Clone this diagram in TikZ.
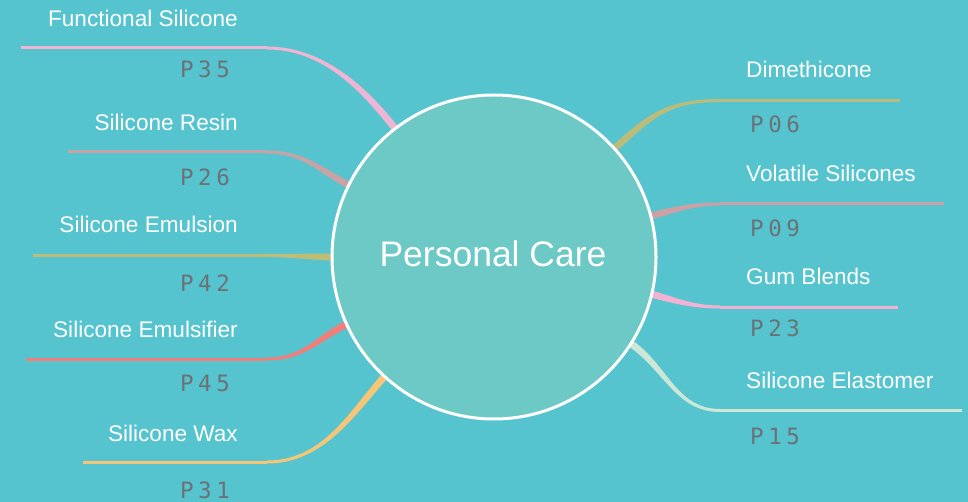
\documentclass[tikz,border=0pt]{standalone}
\usepackage{fontspec}
\setmainfont{Liberation Sans}
\newfontfamily\digfont[LetterSpace=20]{DejaVu Sans Mono}
\usetikzlibrary{calc}
\definecolor{bgc}{HTML}{56C4CF}
\definecolor{hubc}{HTML}{6CC9C6}
\definecolor{digc}{HTML}{6A7276}
\definecolor{cA}{HTML}{F0B4D4}
\definecolor{cB}{HTML}{C6A3A5}
\definecolor{cC}{HTML}{BEBD78}
\definecolor{cD}{HTML}{F07E7B}
\definecolor{cE}{HTML}{F6C575}
\definecolor{cF}{HTML}{B9BC7A}
\definecolor{cG}{HTML}{CBA1A5}
\definecolor{cH}{HTML}{F2B2D4}
\definecolor{cI}{HTML}{CDE7D6}
\newcommand\taperbranch[5]{%
  \fill[#5] ($(#1)!1.5pt!90:(#2)$) .. controls ($(#2)!1.5pt!-90:(#1)$) and ($(#3)!3.5pt!90:(#4)$) .. ($(#4)!3.5pt!-90:(#3)$)
    -- ($(#4)!3.5pt!90:(#3)$) .. controls ($(#3)!3.5pt!-90:(#4)$) and ($(#2)!1.5pt!90:(#1)$) .. ($(#1)!1.5pt!-90:(#2)$) -- cycle;}
\tikzset{
  lbl/.style={text=white, font=\fontsize{22.6}{24}\selectfont, inner sep=0pt},
  pg/.style={text=digc, font=\digfont\fontsize{22.5}{24}\selectfont, inner sep=0pt},
  stem/.style={line width=3pt},
}
\begin{document}
\begin{tikzpicture}[x=1pt,y=-1pt]
\fill[bgc] (0,0) rectangle (968,502);
\useasboundingbox (0,0) rectangle (968,502);
\coordinate (O) at (494,257);
% left branches
\coordinate (E1) at ($(O)+(127.6:158pt)$);
\coordinate (J1) at (267,48);
\coordinate (A1) at (325,48);
\coordinate (B1) at ($(E1)!-50pt!(O)$);
\coordinate (S1) at (21,48);
\coordinate (E2) at ($(O)+(153.7:158pt)$);
\coordinate (J2) at (267,152);
\coordinate (A2) at (305,152);
\coordinate (B2) at ($(E2)!-35pt!(O)$);
\coordinate (S2) at (68,152);
\coordinate (E3) at ($(O)+(180:158pt)$);
\coordinate (J3) at (267,255.5);
\coordinate (A3) at (290,255.5);
\coordinate (B3) at ($(E3)!-20pt!(O)$);
\coordinate (S3) at (33,255.5);
\coordinate (E4) at ($(O)+(204.5:158pt)$);
\coordinate (J4) at (267,359);
\coordinate (A4) at (305,359);
\coordinate (B4) at ($(E4)!-35pt!(O)$);
\coordinate (S4) at (26,359);
\coordinate (E5) at ($(O)+(227.5:158pt)$);
\coordinate (J5) at (267,462);
\coordinate (A5) at (325,462);
\coordinate (B5) at ($(E5)!-50pt!(O)$);
\coordinate (S5) at (83,462);
% right branches
\coordinate (E6) at ($(O)+(42:158pt)$);
\coordinate (J6) at (720,100.5);
\coordinate (A6) at (665,100.5);
\coordinate (B6) at ($(E6)!-50pt!(O)$);
\coordinate (S6) at (900,100.5);
\coordinate (E7) at ($(O)+(14.6:158pt)$);
\coordinate (J7) at (720,204);
\coordinate (A7) at (690,204);
\coordinate (B7) at ($(E7)!-25pt!(O)$);
\coordinate (S7) at (944,204);
\coordinate (E8) at ($(O)+(-13.3:158pt)$);
\coordinate (J8) at (720,307);
\coordinate (A8) at (690,307);
\coordinate (B8) at ($(E8)!-25pt!(O)$);
\coordinate (S8) at (898,307);
\coordinate (E9) at ($(O)+(-32.3:158pt)$);
\coordinate (J9) at (720,410.5);
\coordinate (A9) at (675,410.5);
\coordinate (B9) at ($(E9)!-45pt!(O)$);
\coordinate (S9) at (962,410.5);
% stems
\draw[stem, cA] (S1) -- (J1);
\draw[stem, cB] (S2) -- (J2);
\draw[stem, cC] (S3) -- (J3);
\draw[stem, cD] (S4) -- (J4);
\draw[stem, cE] (S5) -- (J5);
\draw[stem, cF] (J6) -- (S6);
\draw[stem, cG] (J7) -- (S7);
\draw[stem, cH] (J8) -- (S8);
\draw[stem, cI] (J9) -- (S9);
\taperbranch{J1}{A1}{B1}{E1}{cA}
\taperbranch{J2}{A2}{B2}{E2}{cB}
\taperbranch{J3}{A3}{B3}{E3}{cC}
\taperbranch{J4}{A4}{B4}{E4}{cD}
\taperbranch{J5}{A5}{B5}{E5}{cE}
\taperbranch{J6}{A6}{B6}{E6}{cF}
\taperbranch{J7}{A7}{B7}{E7}{cG}
\taperbranch{J8}{A8}{B8}{E8}{cH}
\taperbranch{J9}{A9}{B9}{E9}{cI}
% hub
\node[circle, minimum size=324pt, inner sep=0pt, fill=hubc, draw=white, line width=3pt] (hub) at (O) {};
\node[text=white, font=\fontsize{35.5}{37}\selectfont, inner sep=0pt, anchor=base] (hubtext) at (493,267) {Personal Care};
% left labels
\node[lbl, anchor=base east] (t1) at (238,27) {Functional Silicone};
\node[lbl, anchor=base east] (t2) at (238,131) {Silicone Resin};
\node[lbl, anchor=base east] (t3) at (238,233) {Silicone Emulsion};
\node[lbl, anchor=base east] (t4) at (238,337) {Silicone Emulsifier};
\node[lbl, anchor=base east] (t5) at (238,441) {Silicone Wax};
\node[pg, anchor=base west] (p1) at (180,78) {P35};
\node[pg, anchor=base west] (p2) at (180,186) {P26};
\node[pg, anchor=base west] (p3) at (180,291) {P42};
\node[pg, anchor=base west] (p4) at (180,391) {P45};
\node[pg, anchor=base west] (p5) at (180,498) {P31};
% right labels
\node[lbl, anchor=base west] (t6) at (746,78) {Dimethicone};
\node[lbl, anchor=base west] (t7) at (746,182) {Volatile Silicones};
\node[lbl, anchor=base west] (t8) at (746,285) {Gum Blends};
\node[lbl, anchor=base west] (t9) at (746,388) {Silicone Elastomer};
\node[pg, anchor=base west] (p6) at (750,133) {P06};
\node[pg, anchor=base west] (p7) at (750,237) {P09};
\node[pg, anchor=base west] (p8) at (750,336) {P23};
\node[pg, anchor=base west] (p9) at (750,444) {P15};
\end{tikzpicture}
\end{document}
